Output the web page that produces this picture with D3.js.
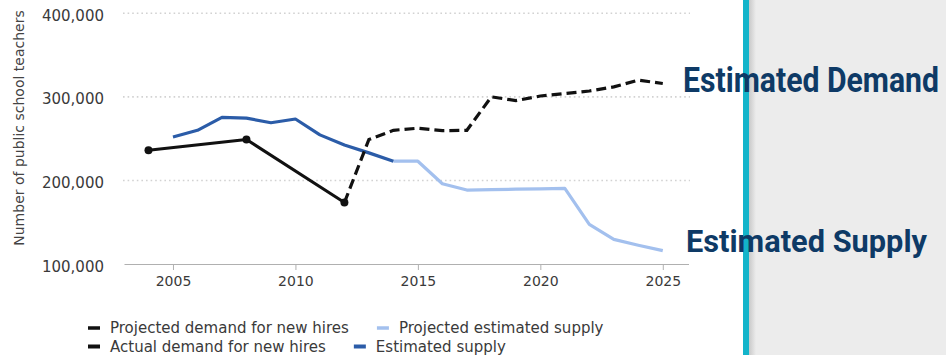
<!DOCTYPE html>
<html>
<head>
<meta charset="utf-8">
<script src="https://cdn.jsdelivr.net/npm/d3@7"></script>
<style>
  html, body { margin: 0; padding: 0; background: #fff; }
  svg { display: block; }
</style>
</head>
<body>
<svg id="chart" width="946" height="355"></svg>
<script>
// Teacher demand vs. supply, 2004–2025
const yTicks = [100000, 200000, 300000, 400000];
const xTicks = [2005, 2010, 2015, 2020, 2025];

const actualDemandYears = [2004, 2008, 2012];
const actualDemand = [236000, 249000, 173500];

const projectedDemandYears = [2012, 2013, 2014, 2015, 2016, 2017, 2018, 2019, 2020, 2021, 2022, 2023, 2024, 2025];
const projectedDemand = [173500, 249000, 260000, 262500, 259500, 260000, 300000, 295500, 301000, 304000, 307000, 312000, 320000, 316000];

const supplyYears = [2005, 2006, 2007, 2008, 2009, 2010, 2011, 2012, 2013, 2014];
const supply = [252000, 260000, 275500, 274500, 269000, 273500, 254500, 242500, 233000, 223000];

const projectedSupplyYears = [2014, 2015, 2016, 2017, 2018, 2019, 2020, 2021, 2022, 2023, 2024, 2025];
const projectedSupply = [223000, 223000, 196000, 188500, 189000, 189500, 190000, 190500, 147500, 129500, 122500, 116000];

const legendRows = [
  [{ label: "Projected demand for new hires", color: "#111", w: 3.5 },
   { label: "Projected estimated supply", color: "#a3c0ee", w: 3.5 }],
  [{ label: "Actual demand for new hires", color: "#111", w: 4 },
   { label: "Estimated supply", color: "#2b5ca8", w: 4 }]
];

const callouts = [
  { text: "Estimated Demand", size: 35, len: 256, x: 683, y: 92 },
  { text: "Estimated Supply", size: 31, len: 241, x: 686, y: 252 }
];

const svg = d3.select("#chart");
const font = "'DejaVu Sans', sans-serif";

// Right-hand panel with teal divider
const defs = svg.append("defs");
const grad = defs.append("linearGradient").attr("id", "shade").attr("x1", 0).attr("x2", 1);
grad.append("stop").attr("offset", "0%").attr("stop-color", "#c9c9c9");
grad.append("stop").attr("offset", "100%").attr("stop-color", "#ececec");
svg.append("rect").attr("x", 749).attr("y", 0).attr("width", 197).attr("height", 355).attr("fill", "#ececec");
svg.append("rect").attr("x", 749).attr("y", 0).attr("width", 7).attr("height", 355).attr("fill", "url(#shade)");
svg.append("rect").attr("x", 743).attr("y", 0).attr("width", 6).attr("height", 355).attr("fill", "#13b4ca");

const x = d3.scaleLinear().domain([2003, 2026.05]).range([124, 688.5]);
const y = d3.scaleLinear().domain([100000, 400000]).range([264, 13.3]);

// Gridlines
svg.append("g").selectAll("line")
  .data(yTicks.filter(d => d > 100000))
  .join("line")
  .attr("x1", 123).attr("x2", 690)
  .attr("y1", d => y(d)).attr("y2", d => y(d))
  .attr("stroke", "#d2d2d2").attr("stroke-width", 1.6)
  .attr("stroke-dasharray", "1.6,3");

// Y labels
svg.append("g").selectAll("text")
  .data(yTicks)
  .join("text")
  .attr("x", 104).attr("y", d => y(d) + 7.5)
  .attr("text-anchor", "end")
  .attr("font-family", font).attr("font-size", 15)
  .attr("fill", "#3a3a3a")
  .text(d => d3.format(",")(d));

// Y title
svg.append("text")
  .attr("transform", "translate(24,128) rotate(-90)")
  .attr("text-anchor", "middle")
  .attr("font-family", font).attr("font-size", 14)
  .attr("fill", "#444")
  .text("Number of public school teachers");

// X axis
const xAxis = svg.append("g")
  .attr("transform", `translate(0,${y(100000)})`)
  .call(d3.axisBottom(x).tickValues(xTicks).tickFormat(d3.format("d")).tickSize(6).tickPadding(6).tickSizeOuter(0));
xAxis.select(".domain").attr("stroke", "#b0b0b0").attr("stroke-width", 1.2);
xAxis.selectAll(".tick line").attr("stroke", "#b0b0b0");
xAxis.selectAll(".tick text").attr("font-family", font).attr("font-size", 14).attr("fill", "#3a3a3a");

const line = d3.line().x(d => x(d[0])).y(d => y(d[1]));

// Supply lines
svg.append("path")
  .datum(d3.zip(projectedSupplyYears, projectedSupply))
  .attr("d", line).attr("fill", "none")
  .attr("stroke", "#a3c0ee").attr("stroke-width", 3.2)
  .attr("stroke-linejoin", "round");
svg.append("path")
  .datum(d3.zip(supplyYears, supply))
  .attr("d", line).attr("fill", "none")
  .attr("stroke", "#2b5ca8").attr("stroke-width", 3.2)
  .attr("stroke-linejoin", "round");

// Demand lines
svg.append("path")
  .datum(d3.zip(actualDemandYears, actualDemand))
  .attr("d", line).attr("fill", "none")
  .attr("stroke", "#111").attr("stroke-width", 3)
  .attr("stroke-linejoin", "round");
svg.append("path")
  .datum(d3.zip(projectedDemandYears, projectedDemand))
  .attr("d", line).attr("fill", "none")
  .attr("stroke", "#111").attr("stroke-width", 3.2)
  .attr("stroke-dasharray", "10,5");
svg.append("g").selectAll("circle")
  .data(d3.zip(actualDemandYears, actualDemand))
  .join("circle")
  .attr("cx", d => x(d[0])).attr("cy", d => y(d[1]))
  .attr("r", 4).attr("fill", "#111");

// Legend
legendRows.forEach((row, i) => {
  const ly = 328 + i * 18.5;
  let lx = 88;
  row.forEach(item => {
    const g = svg.append("g");
    g.append("line")
      .attr("x1", lx).attr("x2", lx + 12)
      .attr("y1", ly).attr("y2", ly)
      .attr("stroke", item.color).attr("stroke-width", item.w);
    const t = g.append("text")
      .attr("x", lx + 22).attr("y", ly + 5)
      .attr("font-family", font).attr("font-size", 15)
      .attr("fill", "#3a3a3a")
      .text(item.label);
    lx += 22 + t.node().getComputedTextLength() + 28;
  });
});

// Callout labels
svg.append("g").selectAll("text")
  .data(callouts)
  .join("text")
  .attr("x", d => d.x).attr("y", d => d.y)
  .attr("font-family", "Roboto, sans-serif").attr("font-weight", 700)
  .attr("font-size", d => d.size)
  .attr("textLength", d => d.len).attr("lengthAdjust", "spacingAndGlyphs")
  .attr("fill", "#0e3a66")
  .text(d => d.text);
</script>
</body>
</html>
